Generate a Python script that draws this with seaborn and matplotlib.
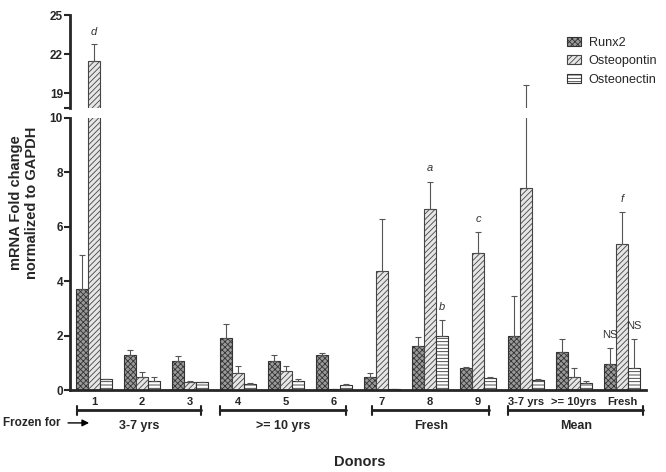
import numpy as np
import pandas as pd
import matplotlib
matplotlib.use("Agg")
import matplotlib.pyplot as plt
import matplotlib.patches as mpatches
import seaborn as sns

# --- data ---
donors = ["1", "2", "3", "4", "5", "6", "7", "8", "9", "3-7 yrs", ">= 10yrs", "Fresh"]
genes = ["Runx2", "Osteopontin", "Osteonectin"]

runx2 = [3.70, 1.27, 1.07, 1.91, 1.06, 1.29, 0.48, 1.62, 0.81, 2.00, 1.41, 0.96]
runx2_err = [1.27, 0.21, 0.18, 0.52, 0.23, 0.06, 0.16, 0.34, 0.02, 1.47, 0.45, 0.59]
opn = [21.5, 0.47, 0.31, 0.62, 0.71, 0.03, 4.37, 6.67, 5.04, 7.44, 0.47, 5.36]
opn_err = [1.30, 0.19, 0.03, 0.27, 0.18, 0.0, 1.93, 0.99, 0.78, 12.16, 0.35, 1.18]
osn = [0.39, 0.34, 0.28, 0.21, 0.33, 0.17, 0.03, 1.99, 0.45, 0.37, 0.25, 0.82]
osn_err = [0.03, 0.13, 0.03, 0.05, 0.09, 0.04, 0.0, 0.58, 0.04, 0.03, 0.07, 1.04]

groups = ["3-7 yrs", ">= 10 yrs", "Fresh", "Mean"]
group_spans = [(-0.36, 2.23), (2.63, 5.26), (5.80, 8.23), (8.63, 11.44)]

# significance letters: (donor index, gene index, text)
letters = [(0, 1, "d"), (7, 1, "a"), (7, 2, "b"), (8, 1, "c"), (11, 1, "f"),
           (11, 0, "NS"), (11, 2, "NS")]

# --- styling ---
sns.set_style("ticks")
plt.rcParams["font.family"] = ["Liberation Sans", "DejaVu Sans"]
plt.rcParams["hatch.linewidth"] = 0.6

vals = [runx2, opn, osn]
errs = [runx2_err, opn_err, osn_err]
df = pd.DataFrame({
    "donor": np.tile(donors, 3),
    "gene": np.repeat(genes, len(donors)),
    "value": np.concatenate(vals),
})

styles = {
    "Runx2": dict(facecolor="#9a9a9a", hatch="xxxxxx", edgecolor="#333333"),
    "Osteopontin": dict(facecolor="#e6e6e6", hatch="//////", edgecolor="#444444"),
    "Osteonectin": dict(facecolor="white", hatch="-----", edgecolor="#333333"),
}

fig = plt.figure(figsize=(6.66, 4.72), dpi=100)
ax_top = fig.add_axes([0.105, 0.771, 0.865, 0.197])
ax = fig.add_axes([0.105, 0.1737, 0.865, 0.5763])

bar_pos = {}
for a in (ax_top, ax):
    sns.barplot(data=df, x="donor", y="value", hue="gene", order=donors,
                hue_order=genes, width=0.75, errorbar=None, legend=False,
                ax=a, linewidth=0.8)
    bar_conts = list(a.containers)
    for gi, cont in enumerate(bar_conts):
        st = styles[genes[gi]]
        xs, hs = [], []
        for p in cont.patches:
            p.set_facecolor(st["facecolor"])
            p.set_hatch(st["hatch"])
            p.set_edgecolor(st["edgecolor"])
            p.set_linewidth(0.8)
            xs.append(p.get_x() + p.get_width() / 2)
            hs.append(p.get_height())
        bar_pos[gi] = xs
        e = np.array(errs[gi])
        a.errorbar(xs, hs, yerr=[np.zeros_like(e), e], fmt="none",
                   ecolor="#555555", elinewidth=0.8, capsize=2.5, capthick=0.8)
    a.set_xlim(-0.5, 11.5)
    a.set_xlabel("")
    a.set_ylabel("")
    sns.despine(ax=a)
    a.spines["left"].set_linewidth(2)
    a.spines["bottom"].set_linewidth(2)
    a.tick_params(axis="y", width=1.5, length=4, labelsize=8.5, pad=1)

# top part of the broken axis
ax_top.set_ylim(17.85, 25)
ax_top.set_yticks([17.85, 19, 22, 25])
ax_top.set_yticklabels(["", "19", "22", "25"], fontweight="bold")
ax_top.spines["bottom"].set_visible(False)
ax_top.set_xticks([])

# bottom part
ax.set_ylim(0, 10)
ax.set_yticks([0, 2, 4, 6, 8, 10])
ax.set_yticklabels(["0", "2", "4", "6", "8", "10"], fontweight="bold")
ax.tick_params(axis="x", length=0, labelsize=8, pad=5)
for t in ax.get_xticklabels():
    t.set_fontweight("bold")

# letters above error bars
for di, gi, txt in letters:
    x = bar_pos[gi][di]
    top = vals[gi][di] + errs[gi][di]
    target = ax_top if top > 10 else ax
    pad = 0.55 if target is ax_top else 0.3
    style = "normal" if txt == "NS" else "italic"
    target.text(x, top + pad, txt, ha="center", va="bottom", fontsize=8,
                style=style, color="#333333")

# group brackets under the x axis
yb = -0.74
for (x0, x1), name in zip(group_spans, groups):
    ax.plot([x0, x1], [yb, yb], color="#222222", lw=2, clip_on=False)
    for xe in (x0, x1):
        ax.plot([xe, xe], [yb - 0.17, yb + 0.17], color="#222222", lw=1.5,
                clip_on=False)
    ax.text((x0 + x1) / 2, yb - 0.35, name, ha="center", va="top",
            fontsize=9, fontweight="bold")

fig.text(0.004, 0.104, "Frozen for", ha="left", va="center", fontsize=8.5,
         fontweight="bold")
fig.add_artist(mpatches.FancyArrowPatch(
    (0.098, 0.104), (0.138, 0.104), transform=fig.transFigure,
    arrowstyle="-|>", mutation_scale=10, color="black", lw=1))

fig.text(0.54, 0.022, "Donors", ha="center", va="center", fontsize=10.5,
         fontweight="bold")
fig.text(0.036, 0.57, "mRNA Fold change\nnormalized to GAPDH", rotation=90,
         ha="center", va="center", fontsize=10.5, fontweight="bold",
         linespacing=1.1)

handles = [mpatches.Patch(facecolor=styles[g]["facecolor"], hatch=styles[g]["hatch"],
                          edgecolor=styles[g]["edgecolor"], linewidth=0.8)
           for g in genes]
ax_top.legend(handles, genes, loc="upper left", bbox_to_anchor=(0.842, 0.935),
              bbox_transform=fig.transFigure, frameon=False, fontsize=9.1,
              handlelength=1.1, handleheight=0.7, labelspacing=0.5,
              handletextpad=0.6, borderpad=0)

fig.savefig("out.png", dpi=100)
